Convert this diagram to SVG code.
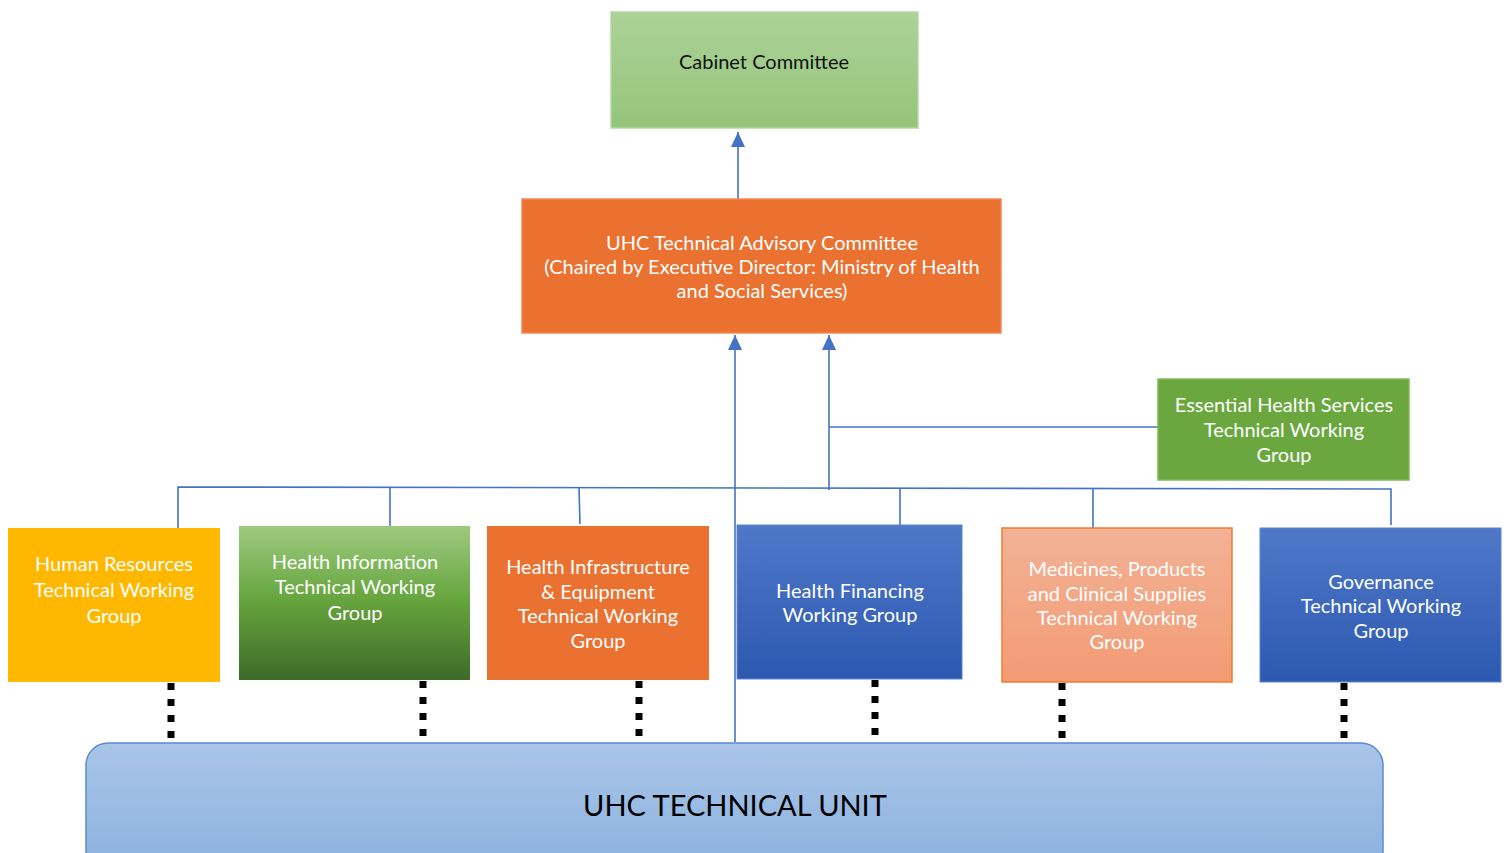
<svg xmlns="http://www.w3.org/2000/svg" width="1507" height="853" viewBox="0 0 1507 853">
<style>
.t{font-family:Lato,"Open Sans","Liberation Sans",sans-serif;font-size:20px;fill:#fff;text-anchor:middle}
.tb{fill:#111}
.c{stroke:#4472c4;stroke-width:1.6;fill:none}
.d{stroke:#000;stroke-width:7;stroke-dasharray:7 9;fill:none}
</style>
<defs>
<marker id="ah" markerWidth="16" markerHeight="16" viewBox="0 0 16 16" refX="15" refY="8" orient="auto" markerUnits="userSpaceOnUse">
<path d="M0,1 L15,8 L0,15 Z" fill="#4472c4"/>
</marker>
<linearGradient id="gCab" x1="0" y1="0" x2="0" y2="1"><stop offset="0" stop-color="#acd296"/><stop offset="1" stop-color="#94c57b"/></linearGradient>
<linearGradient id="gHI" x1="0" y1="0" x2="0" y2="1"><stop offset="0" stop-color="#9dca7e"/><stop offset="0.5" stop-color="#64a33c"/><stop offset="1" stop-color="#3e6a29"/></linearGradient>
<linearGradient id="gBlue" x1="0" y1="0" x2="0" y2="1"><stop offset="0" stop-color="#4f78c8"/><stop offset="1" stop-color="#2c58b1"/></linearGradient>
<linearGradient id="gMP" x1="0" y1="0" x2="0" y2="1"><stop offset="0" stop-color="#f2b296"/><stop offset="1" stop-color="#f39b73"/></linearGradient>
<linearGradient id="gTU" x1="0" y1="0" x2="0" y2="1"><stop offset="0" stop-color="#a9c5e8"/><stop offset="1" stop-color="#8ab1de"/></linearGradient>
</defs>
<rect width="1507" height="853" fill="#fff"/>

<g id="connectors">
<path class="c" d="M738,199 V132" marker-end="url(#ah)"/>
<path class="c" d="M735,742 V335" marker-end="url(#ah)"/>
<path class="c" d="M829,490 V335" marker-end="url(#ah)"/>
<path class="c" d="M829,427 H1158"/>
<path class="c" d="M178,528 V487 L1391,489 V525"/>
<path class="c" d="M390,488 V526"/>
<path class="c" d="M579,488 L580,524"/>
<path class="c" d="M900,489 V533"/>
<path class="c" d="M1093,489 V528"/>
<path class="d" d="M171,683 V742"/>
<path class="d" d="M423,681 V740"/>
<path class="d" d="M639,681 V740"/>
<path class="d" d="M875,680 V740"/>
<path class="d" d="M1062,683 V742"/>
<path class="d" d="M1344,683 V740"/>
</g>

<g id="cabinet">
<rect x="611" y="12" width="307" height="116" fill="url(#gCab)" stroke="#b5d9a0" stroke-width="1.5"/>
<text class="t tb" x="764" y="69">Cabinet Committee</text>
</g>

<g id="tac">
<rect x="522" y="199" width="479" height="134" fill="#ea7130" stroke="#f08a55" stroke-width="1.5"/>
<text class="t" x="762" y="250">UHC Technical Advisory Committee</text>
<text class="t" x="762" y="274">(Chaired by Executive Director: Ministry of Health</text>
<text class="t" x="762" y="298">and Social Services)</text>
</g>

<g id="ehs">
<rect x="1158" y="379" width="251" height="101" fill="#6aa83f" stroke="#7fbb58" stroke-width="1.5"/>
<text class="t" x="1284" y="412">Essential Health Services</text>
<text class="t" x="1284" y="437">Technical Working</text>
<text class="t" x="1284" y="462">Group</text>
</g>

<g id="hr">
<rect x="8" y="528" width="212" height="154" fill="#ffb700"/>
<text class="t" x="114" y="571">Human Resources</text>
<text class="t" x="114" y="597">Technical Working</text>
<text class="t" x="114" y="623">Group</text>
</g>

<g id="hi">
<rect x="239" y="526" width="231" height="154" fill="url(#gHI)"/>
<text class="t" x="355" y="569">Health Information</text>
<text class="t" x="355" y="594">Technical Working</text>
<text class="t" x="355" y="620">Group</text>
</g>

<g id="hie">
<rect x="487" y="526" width="222" height="154" fill="#ea7130"/>
<text class="t" x="598" y="574">Health Infrastructure</text>
<text class="t" x="598" y="599">&amp; Equipment</text>
<text class="t" x="598" y="623">Technical Working</text>
<text class="t" x="598" y="648">Group</text>
</g>

<g id="hf">
<rect x="737" y="525" width="225" height="154" fill="url(#gBlue)" stroke="#5a86d0" stroke-width="1"/>
<text class="t" x="850" y="598">Health Financing</text>
<text class="t" x="850" y="622">Working Group</text>
</g>

<g id="mp">
<rect x="1002" y="528" width="230" height="154" fill="url(#gMP)" stroke="#ed7d31" stroke-width="1.5"/>
<text class="t" x="1117" y="576">Medicines, Products</text>
<text class="t" x="1117" y="601">and Clinical Supplies</text>
<text class="t" x="1117" y="625">Technical Working</text>
<text class="t" x="1117" y="649">Group</text>
</g>

<g id="gov">
<rect x="1260" y="528" width="241" height="154" fill="url(#gBlue)" stroke="#5a86d0" stroke-width="1"/>
<text class="t" x="1381" y="589">Governance</text>
<text class="t" x="1381" y="613">Technical Working</text>
<text class="t" x="1381" y="638">Group</text>
</g>

<g id="tu">
<rect x="86" y="743" width="1297" height="130" rx="22" fill="url(#gTU)" stroke="#5b8bd0" stroke-width="1.5"/>
<text class="t tb" x="735" y="816" style="font-size:29px;fill:#000">UHC TECHNICAL UNIT</text>
</g>
</svg>
